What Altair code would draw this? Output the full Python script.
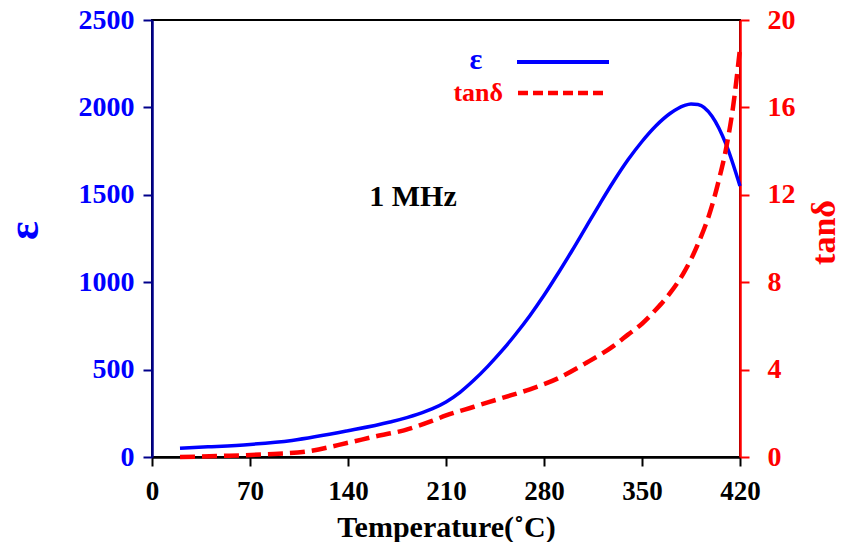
import altair as alt
import pandas as pd

# ---- data ----
temp_eps = [20, 40, 70, 100, 140, 170, 190, 200, 210, 220, 230, 240, 250, 260, 270, 280, 290,
            300, 310, 320, 330, 340, 350, 360, 370, 380, 385, 390, 400, 410, 420]
eps_vals = [50, 58, 72, 95, 150, 200, 245, 275, 315, 370, 440, 520, 608, 705, 810, 925, 1050,
            1180, 1315, 1450, 1580, 1700, 1805, 1895, 1965, 2010, 2020, 2017, 1950, 1790, 1550]

temp_tan = [20, 50, 80, 110, 140, 160, 180, 200, 210, 230, 250, 270, 290, 310, 330,
            340, 350, 360, 370, 380, 390, 400, 405, 410, 415, 420]
tan_vals = [0.0, 0.05, 0.12, 0.25, 0.65, 0.95, 1.22, 1.65, 1.9, 2.3, 2.7, 3.1, 3.6, 4.3, 5.1,
            5.6, 6.1, 6.75, 7.5, 8.45, 9.75, 11.5, 12.7, 14.1, 16.0, 18.7]

x_ticks = [0, 70, 140, 210, 280, 350, 420]
eps_ticks = [0, 500, 1000, 1500, 2000, 2500]
tan_ticks = [0, 4, 8, 12, 16, 20]

FONT = "Liberation Serif"
BLUE = "#0000FF"
RED = "#FF0000"

df_eps = pd.DataFrame({"T": temp_eps, "eps": eps_vals})
df_tan = pd.DataFrame({"T": temp_tan, "tan": tan_vals})
one = pd.DataFrame({"k": [0]})

x_axis = alt.Axis(values=x_ticks, format="d", title="Temperature(˚C)", labelColor="black",
                  titleColor="black", domainColor="black", tickColor="black",
                  labelPadding=12, titlePadding=8, titleFontSize=30, labelFlush=False)
x_enc = alt.X("T:Q", scale=alt.Scale(domain=[0, 420], nice=False), axis=x_axis)

blue = alt.Chart(df_eps).mark_line(color=BLUE, strokeWidth=3.5, interpolate="monotone").encode(
    x=x_enc,
    y=alt.Y("eps:Q", scale=alt.Scale(domain=[0, 2500], nice=False),
            axis=alt.Axis(values=eps_ticks, format="d", title="ε", titleColor=BLUE,
                          labelColor=BLUE, domainColor="#00008B", tickColor="#00008B",
                          labelPadding=9, labelFontSize=28, titleFontSize=44, titleX=-128,
                          titleY=210, titleAngle=270, titleAlign="center",
                          titleBaseline="middle")),
)

red = alt.Chart(df_tan).mark_line(color=RED, strokeWidth=4.5, strokeDash=[15, 7],
                                  interpolate="monotone").encode(
    x=x_enc,
    y=alt.Y("tan:Q", scale=alt.Scale(domain=[0, 20], nice=False),
            axis=alt.Axis(orient="right", values=tan_ticks, format="d", title="tanδ",
                          titleColor=RED, labelColor=RED, domainColor=RED, tickColor=RED,
                          labelPadding=18, labelFontSize=28, titleFontSize=34, titleAngle=270,
                          titleX=84, titleY=212, titleAlign="center",
                          titleBaseline="middle")),
)

curves = alt.layer(blue, red).resolve_scale(y="independent")

mhz = alt.Chart(one).mark_text(text="1 MHz", font=FONT, fontSize=30, fontWeight="bold",
                               color="black").encode(x=alt.value(261), y=alt.value(177))
leg_eps = alt.Chart(one).mark_text(text="ε", font=FONT, fontSize=30, fontWeight="bold",
                                   color=BLUE).encode(x=alt.value(324), y=alt.value(40))
leg_tan = alt.Chart(one).mark_text(text="tanδ", font=FONT, fontSize=26, fontWeight="bold",
                                   color=RED, align="right").encode(x=alt.value(351), y=alt.value(73))
leg_blue = alt.Chart(one).mark_rule(color=BLUE, strokeWidth=4).encode(
    x=alt.value(365), x2=alt.value(457), y=alt.value(42))
leg_red = alt.Chart(one).mark_rule(color=RED, strokeWidth=4.5, strokeDash=[10, 5]).encode(
    x=alt.value(366), x2=alt.value(456), y=alt.value(73))

chart = alt.layer(curves, mhz, leg_eps, leg_tan, leg_blue, leg_red).properties(
    width=588, height=437,
    autosize=alt.AutoSizeParams(type="none"),
    padding={"left": 144, "top": 12, "right": 96, "bottom": 85},
).configure_view(stroke="black", strokeWidth=2).configure_axis(
    labelFont=FONT, titleFont=FONT, labelFontWeight="bold", titleFontWeight="bold",
    labelFontSize=27, titleFontSize=27, grid=False, tickSize=9, tickWidth=2, domainWidth=2.5,
)

chart.save("out.html", embed_options={"renderer": "svg", "actions": False})
